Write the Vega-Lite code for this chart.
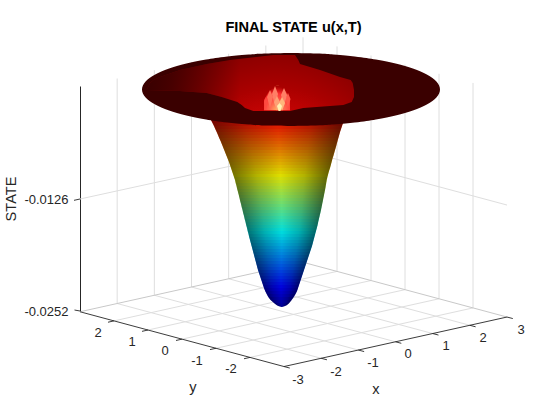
{
"$schema":"https://vega.github.io/schema/vega-lite/v6.json",
"width":427,"height":225,"autosize":"none",
"padding":{"left":80,"top":86,"right":53,"bottom":109},
"background":"white",
"title":{"text":"FINAL STATE u(x,T)","anchor":"middle","offset":2,"font":"Liberation Sans","fontSize":14.6,"fontWeight":"bold","color":"#000000"},
"config":{"view":{"stroke":null},"axis":{"grid":false}},
"datasets":{
"grid":[
{"h":2.766,"z":-0.03052,"h2":-17.634,"z2":-0.024358},
{"h":6.483,"z":-0.029592,"h2":-13.917,"z2":-0.02343},
{"h":10.2,"z":-0.028664,"h2":-10.2,"z2":-0.022502},
{"h":13.917,"z":-0.027736,"h2":-6.483,"z2":-0.021574},
{"h":17.634,"z":-0.026808,"h2":-2.766,"z2":-0.020646},
{"h":-4.351,"z":-0.0304205,"h2":17.951,"z2":-0.0248525},
{"h":-7.751,"z":-0.0293935,"h2":14.551,"z2":-0.0238255},
{"h":-11.151,"z":-0.0283665,"h2":11.151,"z2":-0.0227985},
{"h":-14.551,"z":-0.0273395,"h2":7.751,"z2":-0.0217715},
{"h":-17.951,"z":-0.0263125,"h2":4.351,"z2":-0.0207445},
{"h":-17.634,"z":-0.024358,"h2":-17.634,"z2":0.000955},
{"h":-13.917,"z":-0.02343,"h2":-13.917,"z2":0.001883},
{"h":-10.2,"z":-0.022502,"h2":-10.2,"z2":0.002811},
{"h":-6.483,"z":-0.021574,"h2":-6.483,"z2":0.003739},
{"h":-2.766,"z":-0.020646,"h2":-2.766,"z2":0.004667},
{"h":0.951,"z":-0.019718,"h2":0.951,"z2":0.005595},
{"h":4.351,"z":-0.0207445,"h2":4.351,"z2":0.004568},
{"h":7.751,"z":-0.0217715,"h2":7.751,"z2":0.003541},
{"h":11.151,"z":-0.0227985,"h2":11.151,"z2":0.002514},
{"h":14.551,"z":-0.0238255,"h2":14.551,"z2":0.001487},
{"h":17.951,"z":-0.0248525,"h2":17.951,"z2":0.00046},
{"h":-21.351,"z":-0.0126,"h2":0.951,"z2":-0.0071175},
{"h":0.951,"z":-0.0071175,"h2":21.351,"z2":-0.01328}
],
"edges":[
{"h":-21.351,"z":-0.025286,"h2":0.951,"z2":-0.019718},
{"h":0.951,"z":-0.019718,"h2":21.351,"z2":-0.02588}
],
"axes":[
{"h":-21.351,"z":-0.025286,"h2":-0.951,"z2":-0.031448},
{"h":-0.951,"z":-0.031448,"h2":21.351,"z2":-0.02588},
{"h":-0.951,"z":-0.031448,"h2":-0.371,"z2":-0.031618},
{"h":2.766,"z":-0.03052,"h2":3.346,"z2":-0.03069},
{"h":6.483,"z":-0.029592,"h2":7.063,"z2":-0.029762},
{"h":10.2,"z":-0.028664,"h2":10.78,"z2":-0.028834},
{"h":13.917,"z":-0.027736,"h2":14.497,"z2":-0.027906},
{"h":17.634,"z":-0.026808,"h2":18.214,"z2":-0.026978},
{"h":21.351,"z":-0.02588,"h2":21.931,"z2":-0.02605},
{"h":-4.351,"z":-0.0304205,"h2":-4.951,"z2":-0.0305705},
{"h":-7.751,"z":-0.0293935,"h2":-8.351,"z2":-0.0295435},
{"h":-11.151,"z":-0.0283665,"h2":-11.751,"z2":-0.0285165},
{"h":-14.551,"z":-0.0273395,"h2":-15.151,"z2":-0.0274895},
{"h":-17.951,"z":-0.0263125,"h2":-18.551,"z2":-0.0264625},
{"h":-21.35,"z":-0.0126,"h2":-21.95,"z2":-0.01275},
{"h":-21.35,"z":-0.0252,"h2":-21.9,"z2":-0.02509}
],
"funnel":[
{"band":-0.02475,"z":-0.02475,"h":-1.2,"h2":-1.15},{"band":-0.02475,"z":-0.0246375,"h":-1.51,"h2":-0.85},
{"band":-0.0246375,"z":-0.0246375,"h":-1.51,"h2":-0.85},{"band":-0.0246375,"z":-0.024525,"h":-1.7,"h2":-0.65},
{"band":-0.024525,"z":-0.024525,"h":-1.7,"h2":-0.65},{"band":-0.024525,"z":-0.0243,"h":-1.95,"h2":-0.43},
{"band":-0.0243,"z":-0.0243,"h":-1.95,"h2":-0.43},{"band":-0.0243,"z":-0.0239625,"h":-2.29,"h2":-0.19},
{"band":-0.0239625,"z":-0.0239625,"h":-2.29,"h2":-0.19},{"band":-0.0239625,"z":-0.023625,"h":-2.52,"h2":0.02},
{"band":-0.023625,"z":-0.023625,"h":-2.52,"h2":0.02},{"band":-0.023625,"z":-0.0232875,"h":-2.68,"h2":0.2},
{"band":-0.0232875,"z":-0.0232875,"h":-2.68,"h2":0.2},{"band":-0.0232875,"z":-0.02295,"h":-2.83,"h2":0.35},
{"band":-0.02295,"z":-0.02295,"h":-2.83,"h2":0.35},{"band":-0.02295,"z":-0.0226125,"h":-2.95,"h2":0.45},
{"band":-0.0226125,"z":-0.0226125,"h":-2.95,"h2":0.45},{"band":-0.0226125,"z":-0.022275,"h":-3.05,"h2":0.55},
{"band":-0.022275,"z":-0.022275,"h":-3.05,"h2":0.55},{"band":-0.022275,"z":-0.0219375,"h":-3.15,"h2":0.65},
{"band":-0.0219375,"z":-0.0219375,"h":-3.15,"h2":0.65},{"band":-0.0219375,"z":-0.0216,"h":-3.25,"h2":0.75},
{"band":-0.0216,"z":-0.0216,"h":-3.25,"h2":0.75},{"band":-0.0216,"z":-0.0212625,"h":-3.35,"h2":0.85},
{"band":-0.0212625,"z":-0.0212625,"h":-3.35,"h2":0.85},{"band":-0.0212625,"z":-0.020925,"h":-3.45,"h2":0.95},
{"band":-0.020925,"z":-0.020925,"h":-3.45,"h2":0.95},{"band":-0.020925,"z":-0.0205875,"h":-3.55,"h2":1.05},
{"band":-0.0205875,"z":-0.0205875,"h":-3.55,"h2":1.05},{"band":-0.0205875,"z":-0.02025,"h":-3.63,"h2":1.15},
{"band":-0.02025,"z":-0.02025,"h":-3.63,"h2":1.15},{"band":-0.02025,"z":-0.0199125,"h":-3.71,"h2":1.25},
{"band":-0.0199125,"z":-0.0199125,"h":-3.71,"h2":1.25},{"band":-0.0199125,"z":-0.019575,"h":-3.79,"h2":1.35},
{"band":-0.019575,"z":-0.019575,"h":-3.79,"h2":1.35},{"band":-0.019575,"z":-0.0192375,"h":-3.87,"h2":1.45},
{"band":-0.0192375,"z":-0.0192375,"h":-3.87,"h2":1.45},{"band":-0.0192375,"z":-0.0189,"h":-3.95,"h2":1.55},
{"band":-0.0189,"z":-0.0189,"h":-3.95,"h2":1.55},{"band":-0.0189,"z":-0.0185625,"h":-4.03,"h2":1.65},
{"band":-0.0185625,"z":-0.0185625,"h":-4.03,"h2":1.65},{"band":-0.0185625,"z":-0.018225,"h":-4.11,"h2":1.75},
{"band":-0.018225,"z":-0.018225,"h":-4.11,"h2":1.75},{"band":-0.018225,"z":-0.0178875,"h":-4.19,"h2":1.85},
{"band":-0.0178875,"z":-0.0178875,"h":-4.19,"h2":1.85},{"band":-0.0178875,"z":-0.01755,"h":-4.27,"h2":1.93},
{"band":-0.01755,"z":-0.01755,"h":-4.27,"h2":1.93},{"band":-0.01755,"z":-0.0172125,"h":-4.35,"h2":2.01},
{"band":-0.0172125,"z":-0.0172125,"h":-4.35,"h2":2.01},{"band":-0.0172125,"z":-0.016875,"h":-4.43,"h2":2.09},
{"band":-0.016875,"z":-0.016875,"h":-4.43,"h2":2.09},{"band":-0.016875,"z":-0.0165375,"h":-4.5,"h2":2.17},
{"band":-0.0165375,"z":-0.0165375,"h":-4.5,"h2":2.17},{"band":-0.0165375,"z":-0.0162,"h":-4.58,"h2":2.25},
{"band":-0.0162,"z":-0.0162,"h":-4.58,"h2":2.25},{"band":-0.0162,"z":-0.0158625,"h":-4.65,"h2":2.33},
{"band":-0.0158625,"z":-0.0158625,"h":-4.65,"h2":2.33},{"band":-0.0158625,"z":-0.015525,"h":-4.73,"h2":2.41},
{"band":-0.015525,"z":-0.015525,"h":-4.73,"h2":2.41},{"band":-0.015525,"z":-0.0151875,"h":-4.8,"h2":2.47},
{"band":-0.0151875,"z":-0.0151875,"h":-4.8,"h2":2.47},{"band":-0.0151875,"z":-0.01485,"h":-4.88,"h2":2.54},
{"band":-0.01485,"z":-0.01485,"h":-4.88,"h2":2.54},{"band":-0.01485,"z":-0.0145125,"h":-4.95,"h2":2.61},
{"band":-0.0145125,"z":-0.0145125,"h":-4.95,"h2":2.61},{"band":-0.0145125,"z":-0.014175,"h":-5.03,"h2":2.68},
{"band":-0.014175,"z":-0.014175,"h":-5.03,"h2":2.68},{"band":-0.014175,"z":-0.0138375,"h":-5.1,"h2":2.75},
{"band":-0.0138375,"z":-0.0138375,"h":-5.1,"h2":2.75},{"band":-0.0138375,"z":-0.0135,"h":-5.18,"h2":2.81},
{"band":-0.0135,"z":-0.0135,"h":-5.18,"h2":2.81},{"band":-0.0135,"z":-0.0131625,"h":-5.25,"h2":2.87},
{"band":-0.0131625,"z":-0.0131625,"h":-5.25,"h2":2.87},{"band":-0.0131625,"z":-0.012825,"h":-5.33,"h2":2.93},
{"band":-0.012825,"z":-0.012825,"h":-5.33,"h2":2.93},{"band":-0.012825,"z":-0.0124875,"h":-5.4,"h2":2.99},
{"band":-0.0124875,"z":-0.0124875,"h":-5.4,"h2":2.99},{"band":-0.0124875,"z":-0.01215,"h":-5.47,"h2":3.05},
{"band":-0.01215,"z":-0.01215,"h":-5.47,"h2":3.05},{"band":-0.01215,"z":-0.0118125,"h":-5.55,"h2":3.11},
{"band":-0.0118125,"z":-0.0118125,"h":-5.55,"h2":3.11},{"band":-0.0118125,"z":-0.011475,"h":-5.63,"h2":3.17},
{"band":-0.011475,"z":-0.011475,"h":-5.63,"h2":3.17},{"band":-0.011475,"z":-0.0111375,"h":-5.7,"h2":3.22},
{"band":-0.0111375,"z":-0.0111375,"h":-5.7,"h2":3.22},{"band":-0.0111375,"z":-0.0108,"h":-5.78,"h2":3.27},
{"band":-0.0108,"z":-0.0108,"h":-5.78,"h2":3.27},{"band":-0.0108,"z":-0.0104625,"h":-5.85,"h2":3.32},
{"band":-0.0104625,"z":-0.0104625,"h":-5.85,"h2":3.32},{"band":-0.0104625,"z":-0.010125,"h":-5.95,"h2":3.39},
{"band":-0.010125,"z":-0.010125,"h":-5.95,"h2":3.39},{"band":-0.010125,"z":-0.0097875,"h":-6.05,"h2":3.47},
{"band":-0.0097875,"z":-0.0097875,"h":-6.05,"h2":3.47},{"band":-0.0097875,"z":-0.00945,"h":-6.15,"h2":3.55},
{"band":-0.00945,"z":-0.00945,"h":-6.15,"h2":3.55},{"band":-0.00945,"z":-0.0091125,"h":-6.25,"h2":3.65},
{"band":-0.0091125,"z":-0.0091125,"h":-6.25,"h2":3.65},{"band":-0.0091125,"z":-0.008775,"h":-6.35,"h2":3.73},
{"band":-0.008775,"z":-0.008775,"h":-6.35,"h2":3.73},{"band":-0.008775,"z":-0.0084375,"h":-6.45,"h2":3.81},
{"band":-0.0084375,"z":-0.0084375,"h":-6.45,"h2":3.81},{"band":-0.0084375,"z":-0.0081,"h":-6.57,"h2":3.89},
{"band":-0.0081,"z":-0.0081,"h":-6.57,"h2":3.89},{"band":-0.0081,"z":-0.0077625,"h":-6.69,"h2":3.98},
{"band":-0.0077625,"z":-0.0077625,"h":-6.69,"h2":3.98},{"band":-0.0077625,"z":-0.007425,"h":-6.81,"h2":4.07},
{"band":-0.007425,"z":-0.007425,"h":-6.81,"h2":4.07},{"band":-0.007425,"z":-0.0070875,"h":-6.93,"h2":4.15},
{"band":-0.0070875,"z":-0.0070875,"h":-6.93,"h2":4.15},{"band":-0.0070875,"z":-0.00675,"h":-7.05,"h2":4.24},
{"band":-0.00675,"z":-0.00675,"h":-7.05,"h2":4.24},{"band":-0.00675,"z":-0.0064125,"h":-7.17,"h2":4.32},
{"band":-0.0064125,"z":-0.0064125,"h":-7.17,"h2":4.32},{"band":-0.0064125,"z":-0.006075,"h":-7.29,"h2":4.4},
{"band":-0.006075,"z":-0.006075,"h":-7.29,"h2":4.4},{"band":-0.006075,"z":-0.0057375,"h":-7.43,"h2":4.48},
{"band":-0.0057375,"z":-0.0057375,"h":-7.43,"h2":4.48},{"band":-0.0057375,"z":-0.0054,"h":-7.55,"h2":4.57},
{"band":-0.0054,"z":-0.0054,"h":-7.55,"h2":4.57},{"band":-0.0054,"z":-0.0050625,"h":-7.68,"h2":4.65},
{"band":-0.0050625,"z":-0.0050625,"h":-7.68,"h2":4.65},{"band":-0.0050625,"z":-0.004725,"h":-7.82,"h2":4.75},
{"band":-0.004725,"z":-0.004725,"h":-7.82,"h2":4.75},{"band":-0.004725,"z":-0.0043875,"h":-7.95,"h2":4.85},
{"band":-0.0043875,"z":-0.0043875,"h":-7.95,"h2":4.85},{"band":-0.0043875,"z":-0.00405,"h":-8.1,"h2":4.95},
{"band":-0.00405,"z":-0.00405,"h":-8.1,"h2":4.95},{"band":-0.00405,"z":-0.0037125,"h":-8.25,"h2":5.05}
],
"rim":[
{"z":-0.0043875,"h":-0.25,"h2":-0.25},
{"z":-0.0043313,"h":-2.71,"h2":2.21},
{"z":-0.0042188,"h":-4.48,"h2":3.98},
{"z":-0.0039938,"h":-6.62,"h2":6.12},
{"z":-0.0036563,"h":-8.74,"h2":8.24},
{"z":-0.0032063,"h":-10.71,"h2":10.21},
{"z":-0.0026438,"h":-12.44,"h2":11.94},
{"z":-0.0019688,"h":-13.83,"h2":13.33},
{"z":-0.0011813,"h":-14.79,"h2":14.29},
{"z":-0.00028125,"h":-15.15,"h2":14.65},
{"z":0.00061875,"h":-14.79,"h2":14.29},
{"z":0.00140625,"h":-13.83,"h2":13.33},
{"z":0.00208125,"h":-12.44,"h2":11.94},
{"z":0.00264375,"h":-10.71,"h2":10.21},
{"z":0.00309375,"h":-8.74,"h2":8.24},
{"z":0.00343125,"h":-6.62,"h2":6.12},
{"z":0.00365625,"h":-4.48,"h2":3.98},
{"z":0.00376875,"h":-2.71,"h2":2.21},
{"z":0.003825,"h":-0.25,"h2":-0.25}
],
"inner":[
{"z":0.0036,"h":-2.02,"h2":0.15},
{"z":0.0030375,"h":-6.35,"h2":0.48},
{"z":0.0025875,"h":-8.68,"h2":0.65},
{"z":0.0019125,"h":-11.35,"h2":2.65},
{"z":0.001125,"h":-13.35,"h2":4.65},
{"z":0.0007875,"h":-14,"h2":5.72},
{"z":0.00045,"h":-14.35,"h2":5.92},
{"z":-0.0003375,"h":-14.68,"h2":6.05},
{"z":-0.00045,"h":-11.35,"h2":6.05},
{"z":-0.000675,"h":-8.68,"h2":6.05},
{"z":-0.001125,"h":-7.18,"h2":6.05},
{"z":-0.0016875,"h":-5.62,"h2":5.82},
{"z":-0.002025,"h":-5.18,"h2":4.98},
{"z":-0.0023625,"h":-4.85,"h2":0.98},
{"z":-0.0027,"h":-4.02,"h2":-0.35}
],
"spike":[
{"z":0.0002,"h":-1.7,"h2":-1.5},
{"z":-0.0005625,"h":-2.5,"h2":-0.7},
{"z":-0.0014625,"h":-2.95,"h2":-0.35},
{"z":-0.0026438,"h":-2.95,"h2":-0.35}
],
"facets":[
{"id":"H","tone":0,"z":-0.001125,"h":-2.75,"h2":-2.75},{"id":"H","tone":0,"z":-0.0016875,"h":-2.95,"h2":-2.55},{"id":"H","tone":0,"z":-0.0025875,"h":-2.75,"h2":-2.75},
{"id":"D","tone":0.1,"z":-0.000675,"h":-0.55,"h2":-0.55},{"id":"D","tone":0.1,"z":-0.00135,"h":-0.8,"h2":-0.3},{"id":"D","tone":0.1,"z":-0.0023625,"h":-0.55,"h2":-0.55},
{"id":"A","tone":0.3,"z":-0.0003375,"h":-2.35,"h2":-2.35},{"id":"A","tone":0.3,"z":-0.001125,"h":-2.65,"h2":-2.05},{"id":"A","tone":0.3,"z":-0.0023625,"h":-2.35,"h2":-2.35},
{"id":"B","tone":0.4,"z":0.0001125,"h":-1.85,"h2":-1.85},{"id":"B","tone":0.4,"z":-0.0007875,"h":-2.15,"h2":-1.55},{"id":"B","tone":0.4,"z":-0.0021375,"h":-1.85,"h2":-1.85},
{"id":"C","tone":0.4,"z":-0.0001125,"h":-0.95,"h2":-0.95},{"id":"C","tone":0.4,"z":-0.0009,"h":-1.25,"h2":-0.65},{"id":"C","tone":0.4,"z":-0.0021375,"h":-0.95,"h2":-0.95},
{"id":"E","tone":0.6,"z":-0.0010125,"h":-1.65,"h2":-1.65},{"id":"E","tone":0.6,"z":-0.0016875,"h":-1.95,"h2":-1.35},{"id":"E","tone":0.6,"z":-0.0027,"h":-1.65,"h2":-1.65},
{"id":"F","tone":0.7,"z":-0.001125,"h":-1.15,"h2":-1.15},{"id":"F","tone":0.7,"z":-0.0018,"h":-1.45,"h2":-0.85},{"id":"F","tone":0.7,"z":-0.0027,"h":-1.15,"h2":-1.15},
{"id":"G","tone":1,"z":-0.0018,"h":-1.4,"h2":-1.4},{"id":"G","tone":1,"z":-0.0021375,"h":-1.65,"h2":-1.15},{"id":"G","tone":1,"z":-0.0027,"h":-1.5,"h2":-1.3}
],
"labels":[
{"h":0.45,"z":-0.0329625,"label":"-3"},
{"h":4.25,"z":-0.0320625,"label":"-2"},
{"h":7.95,"z":-0.03105,"label":"-1"},
{"h":11.45,"z":-0.0300375,"label":"0"},
{"h":15.25,"z":-0.0291375,"label":"1"},
{"h":18.95,"z":-0.0282375,"label":"2"},
{"h":22.75,"z":-0.0273375,"label":"3"},
{"h":-19.55,"z":-0.027675,"label":"2"},
{"h":-16.15,"z":-0.0286875,"label":"1"},
{"h":-12.85,"z":-0.0297,"label":"0"},
{"h":-9.65,"z":-0.030825,"label":"-1"},
{"h":-6.25,"z":-0.031725,"label":"-2"}
],
"titles":[
{"h":8.25,"z":-0.0340875,"label":"x"},
{"h":-10.05,"z":-0.0338625,"label":"y"}
]
},
"encoding":{
"x":{"field":"h","type":"quantitative","scale":{"domain":[-21.35,21.35],"nice":false,"zero":false},"axis":null},
"y":{"field":"z","type":"quantitative","scale":{"domain":[-0.0252,0.0001125],"nice":false,"zero":false},
"axis":{"title":"STATE","values":[-0.0252,-0.0126],"labelExpr":"datum.value < -0.02 ? '-0.0252' : '-0.0126'","ticks":false,"grid":false,"domainColor":"#262626","domainWidth":1,"labelColor":"#262626","titleColor":"#262626","labelFont":"Liberation Sans","titleFont":"Liberation Sans","labelFontSize":13,"titleFontSize":14.6,"titleFontWeight":"normal","labelPadding":12,"titlePadding":5}}
},
"layer":[
{"data":{"name":"grid"},"mark":{"type":"rule","color":"#dedede","strokeWidth":1},"encoding":{"x2":{"field":"h2"},"y2":{"field":"z2"}}},
{"data":{"name":"edges"},"mark":{"type":"rule","color":"#c8c8c8","strokeWidth":1},"encoding":{"x2":{"field":"h2"},"y2":{"field":"z2"}}},
{"data":{"name":"axes"},"mark":{"type":"rule","color":"#262626","strokeWidth":0.9},"encoding":{"x2":{"field":"h2"},"y2":{"field":"z2"}}},
{"data":{"name":"funnel"},"mark":{"type":"area","orient":"horizontal"},"encoding":{"x2":{"field":"h2"},"detail":{"field":"band"},
"color":{"field":"band","type":"quantitative","legend":null,"scale":{"domain":[-0.025875,-0.022725,-0.016425,-0.013275,-0.010125,-0.003825,-0.000675],"range":["#000080","#0000ff","#00ffff","#80ff80","#ffff00","#ff0000","#800000"],"interpolate":"rgb"}}}},
{"data":{"name":"funnel"},"mark":{"type":"area","orient":"horizontal","color":{"gradient":"linear","x1":0,"y1":0,"x2":1,"y2":0,"stops":[{"offset":0,"color":"rgba(0,0,0,0.55)"},{"offset":0.25,"color":"rgba(0,0,0,0.3)"},{"offset":0.5,"color":"rgba(0,0,0,0.13)"},{"offset":0.75,"color":"rgba(0,0,0,0.3)"},{"offset":1,"color":"rgba(0,0,0,0.6)"}]}},"encoding":{"x2":{"field":"h2"},"detail":{"field":"band"}}},
{"data":{"name":"rim"},"mark":{"type":"area","orient":"horizontal","interpolate":"monotone","color":"#3a0000"},"encoding":{"x2":{"field":"h2"}}},
{"data":{"name":"inner"},"mark":{"type":"area","orient":"horizontal","color":{"gradient":"radial","x1":0.627,"y1":0.97,"r1":0,"x2":0.627,"y2":0.97,"r2":1,"stops":[{"offset":0,"color":"#ff3020"},{"offset":0.15,"color":"#f01818"},{"offset":0.3,"color":"#cc0404"},{"offset":0.45,"color":"#aa0000"},{"offset":0.65,"color":"#860000"},{"offset":0.8,"color":"#620000"},{"offset":0.9,"color":"#4c0000"},{"offset":1,"color":"#3a0000"}]}},"encoding":{"x2":{"field":"h2"}}},
{"data":{"name":"inner"},"mark":{"type":"area","orient":"horizontal","color":{"gradient":"linear","x1":0,"y1":0,"x2":1,"y2":0,"stops":[{"offset":0,"color":"rgba(58,0,0,1)"},{"offset":0.12,"color":"rgba(58,0,0,0.8)"},{"offset":0.45,"color":"rgba(58,0,0,0)"},{"offset":1,"color":"rgba(58,0,0,0)"}]}},"encoding":{"x2":{"field":"h2"}}},
{"data":{"name":"spike"},"mark":{"type":"area","orient":"horizontal","color":{"gradient":"radial","x1":0.5,"y1":0.97,"r1":0,"x2":0.5,"y2":0.97,"r2":0.9,"stops":[{"offset":0,"color":"#ffb060"},{"offset":0.3,"color":"#ff6a50"},{"offset":0.7,"color":"#ff3030"},{"offset":1,"color":"rgba(240,30,30,0)"}]}},"encoding":{"x2":{"field":"h2"}}},
{"data":{"name":"facets"},"mark":{"type":"area","orient":"horizontal"},"encoding":{"x2":{"field":"h2"},"detail":{"field":"id","sort":null},"color":{"field":"tone","type":"quantitative","legend":null,"scale":{"domain":[0,0.5,1],"range":["#ff4a40","#ff8a70","#fff0b0"]}}}},
{"data":{"name":"labels"},"mark":{"type":"text","font":"Liberation Sans","fontSize":13,"color":"#262626","align":"center","baseline":"middle"},"encoding":{"text":{"field":"label"}}},
{"data":{"name":"titles"},"mark":{"type":"text","font":"Liberation Sans","fontSize":14.6,"color":"#262626","align":"center","baseline":"middle"},"encoding":{"text":{"field":"label"}}}
],
"resolve":{"scale":{"color":"independent"}}
}
